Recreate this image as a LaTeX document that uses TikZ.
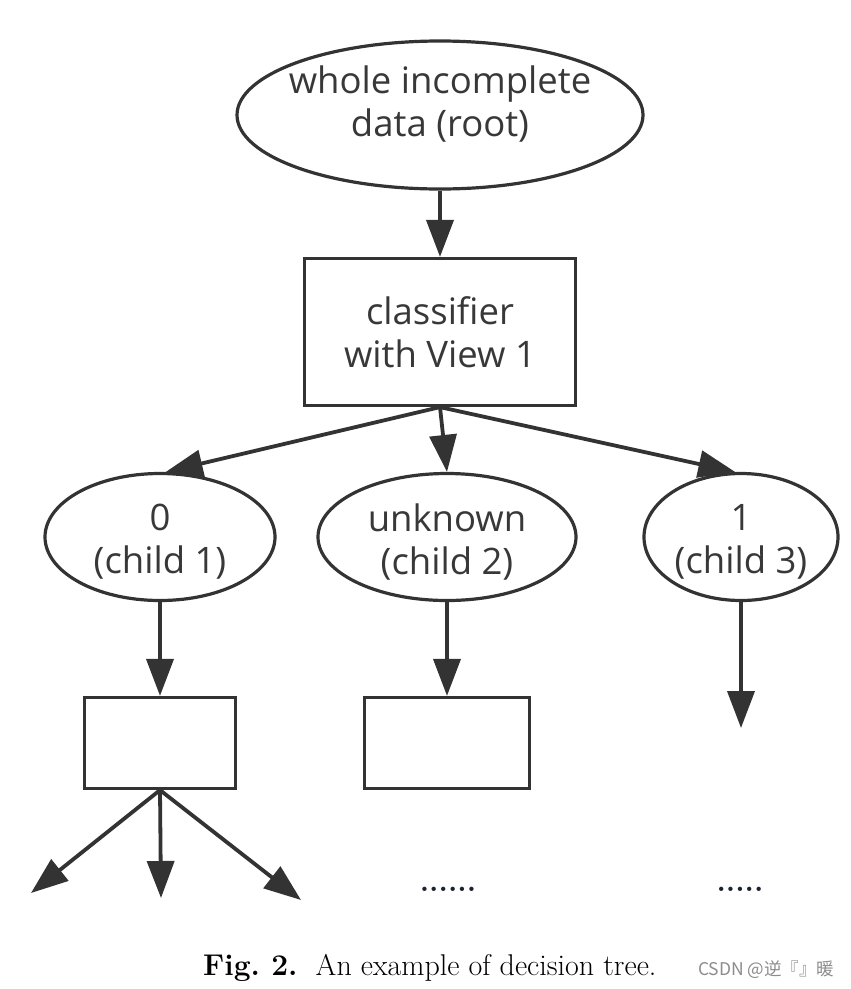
\documentclass[tikz,border=0pt]{standalone}
\usepackage{fontspec}
\usetikzlibrary{shapes.geometric,arrows.meta}
\newfontfamily\uifont{Open Sans}
\newfontfamily\cjk{Noto Sans CJK SC}
\definecolor{lc}{HTML}{333333}
\definecolor{tc}{HTML}{383838}
\definecolor{dotc}{HTML}{1C2230}
\begin{document}
\frenchspacing
\begin{tikzpicture}[x=1pt,y=-1pt,
  uitext/.style={align=center, text=tc, inner sep=0pt,
    font=\uifont\fontsize{36.5}{43}\selectfont},
  ell/.style={draw=lc, line width=3.2pt, ellipse, inner sep=0pt},
  box/.style={draw=lc, line width=3.2pt, rectangle, inner sep=0pt, uitext},
  arr/.style={draw=lc, line width=3.8pt, -{Triangle[length=37pt,width=27pt]}},
  dots/.style={text=dotc, font=\bfseries\fontsize{30}{34}\selectfont, inner sep=0pt}]
\useasboundingbox (0,0) rectangle (851,989);
\fill[white] (0,0) rectangle (851,989);

\node[ell, minimum width=406pt, minimum height=148pt,
  label={[uitext, yshift=11pt]center:{whole incomplete\\data (root)}}] (root) at (440,115) {};
\node[box, minimum width=271pt, minimum height=147pt] (cls) at (440,332) {classifier\\with View 1};
\node[ell, minimum width=230pt, minimum height=127pt,
  label={[uitext, yshift=-5pt]center:{0\\(child 1)}}] (c1) at (160,537) {};
\node[ell, minimum width=258pt, minimum height=127pt,
  label={[uitext, yshift=-5pt]center:{unknown\\(child 2)}}] (c2) at (447,537) {};
\node[ell, minimum width=194pt, minimum height=127pt,
  label={[uitext, yshift=-5pt]center:{1\\(child 3)}}] (c3) at (741,537) {};
\node[box, minimum width=151pt, minimum height=91pt] (b1) at (160,743) {};
\node[box, minimum width=165pt, minimum height=91pt] (b2) at (447,743) {};

\coordinate (t3) at (741,728);
\coordinate (tl) at (31,893);
\coordinate (tm) at (161,898);
\coordinate (tr) at (301,900);

\draw[arr] (root.south) -- (cls.north);
\draw[arr] (cls.south) -- (c1.85);
\draw[arr] (cls.south) -- (c2.north);
\draw[arr] (cls.south) -- (c3.95);
\draw[arr] (c1.south) -- (b1.north);
\draw[arr] (c2.south) -- (b2.north);
\draw[arr] (c3.south) -- (t3);
\draw[arr] (b1.south) -- (tl);
\draw[arr] (b1.south) -- (tm);
\draw[arr] (b1.south) -- (tr);

\node[dots, anchor=base] (d2) at (448,891) {......};
\node[dots, anchor=base] (d3) at (740,891) {.....};

\node[anchor=base west, inner sep=0pt, font=\fontsize{30}{34}\selectfont] (cap) at (203,975)
  {\textbf{Fig. 2.}\ \ An example of decision tree.};
\node[anchor=base west, inner sep=0pt, text=black!45, font=\cjk\fontsize{17.5}{20}\selectfont] (wm) at (698,975)
  {CSDN @逆『』暖};
\end{tikzpicture}
\end{document}
